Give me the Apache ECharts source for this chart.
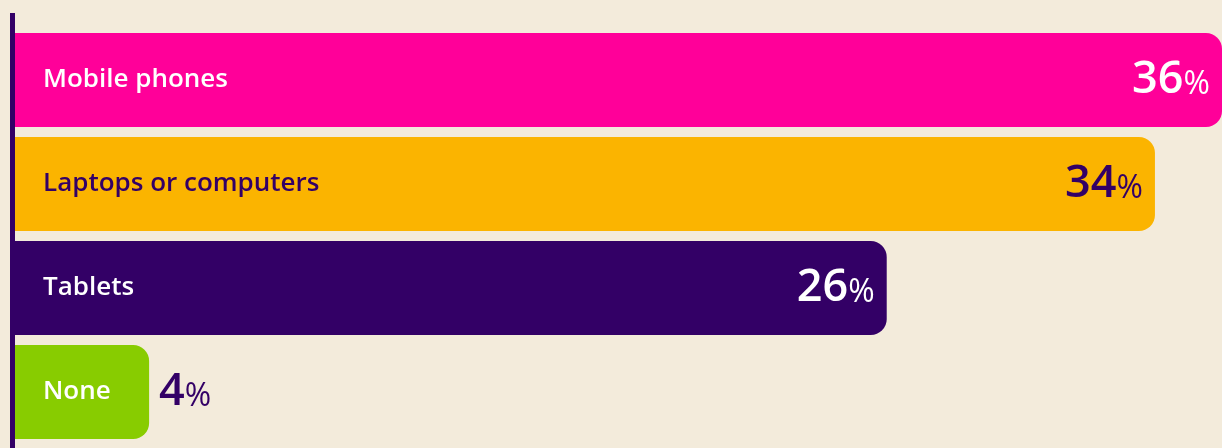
<!DOCTYPE html>
<html lang="en">
<head>
    <meta charset="UTF-8">
    <title>Devices</title>
    <script src="https://cdn.jsdelivr.net/npm/echarts@6/dist/echarts.min.js"></script>
    <style>
        html, body { margin: 0; padding: 0; background: #F3EBDB; }
        #main { width: 1222px; height: 448px; }
    </style>
</head>
<body>
<div id="main"></div>
<script>
    var categories = ['Mobile phones', 'Laptops or computers', 'Tablets', 'None'];
    var values = [36, 34, 26, 4];
    var barColors = ['#FF0099', '#FBB400', '#330066', '#88CC00'];
    var textColors = ['#FFFFFF', '#330066', '#FFFFFF', '#FFFFFF'];
    var valueColors = ['#FFFFFF', '#330066', '#FFFFFF', '#330066'];

    var myChart = echarts.init(document.getElementById('main'));

    var barData = [];
    var nameData = [];
    for (var i = 0; i < values.length; i++) {
        var outside = values[i] < 10;
        barData.push({
            value: values[i],
            itemStyle: { color: barColors[i] },
            label: {
                position: outside ? 'right' : 'insideRight',
                distance: outside ? 10 : 12,
                rich: {
                    n: { fontSize: 45, color: valueColors[i], fontFamily: 'Open Sans', fontWeight: 600, verticalAlign: 'bottom' },
                    p: { fontSize: 32, color: valueColors[i], fontFamily: 'Open Sans', fontWeight: 500, verticalAlign: 'bottom', padding: [0, 0, 2, 0] }
                }
            }
        });
        nameData.push({
            value: values[i],
            label: { color: textColors[i] }
        });
    }

    var option = {
        backgroundColor: '#F3EBDB',
        animation: false,
        grid: [
            { left: 15, right: -8, top: 28, bottom: 4 },
            { left: 12.5, right: 0, top: 13, bottom: 0 }
        ],
        xAxis: [
            { type: 'value', gridIndex: 0, min: 0, max: 36, show: false },
            { type: 'value', gridIndex: 1, show: false }
        ],
        yAxis: [
            {
                type: 'category', gridIndex: 0, inverse: true, data: categories,
                axisLine: { show: false }, axisTick: { show: false }, axisLabel: { show: false }
            },
            {
                type: 'category', gridIndex: 1, data: [''],
                axisLine: { show: true, lineStyle: { color: '#330066', width: 5, cap: 'butt' } },
                axisTick: { show: false }, axisLabel: { show: false }
            }
        ],
        series: [
            {
                type: 'bar',
                xAxisIndex: 0,
                yAxisIndex: 0,
                barWidth: 94,
                data: barData,
                itemStyle: { borderRadius: [0, 16, 16, 0] },
                label: {
                    show: true,
                    formatter: function (p) {
                        return '{n|' + p.value + '}{p|%}';
                    }
                }
            },
            {
                type: 'bar',
                xAxisIndex: 0,
                yAxisIndex: 0,
                barWidth: 94,
                barGap: '-100%',
                silent: true,
                data: nameData,
                itemStyle: { color: 'transparent' },
                label: {
                    show: true,
                    position: 'insideLeft',
                    distance: 28,
                    fontSize: 26,
                    fontFamily: 'Open Sans',
                    fontWeight: 600,
                    formatter: function (p) {
                        return p.name;
                    }
                }
            }
        ]
    };

    myChart.setOption(option);
</script>
</body>
</html>
